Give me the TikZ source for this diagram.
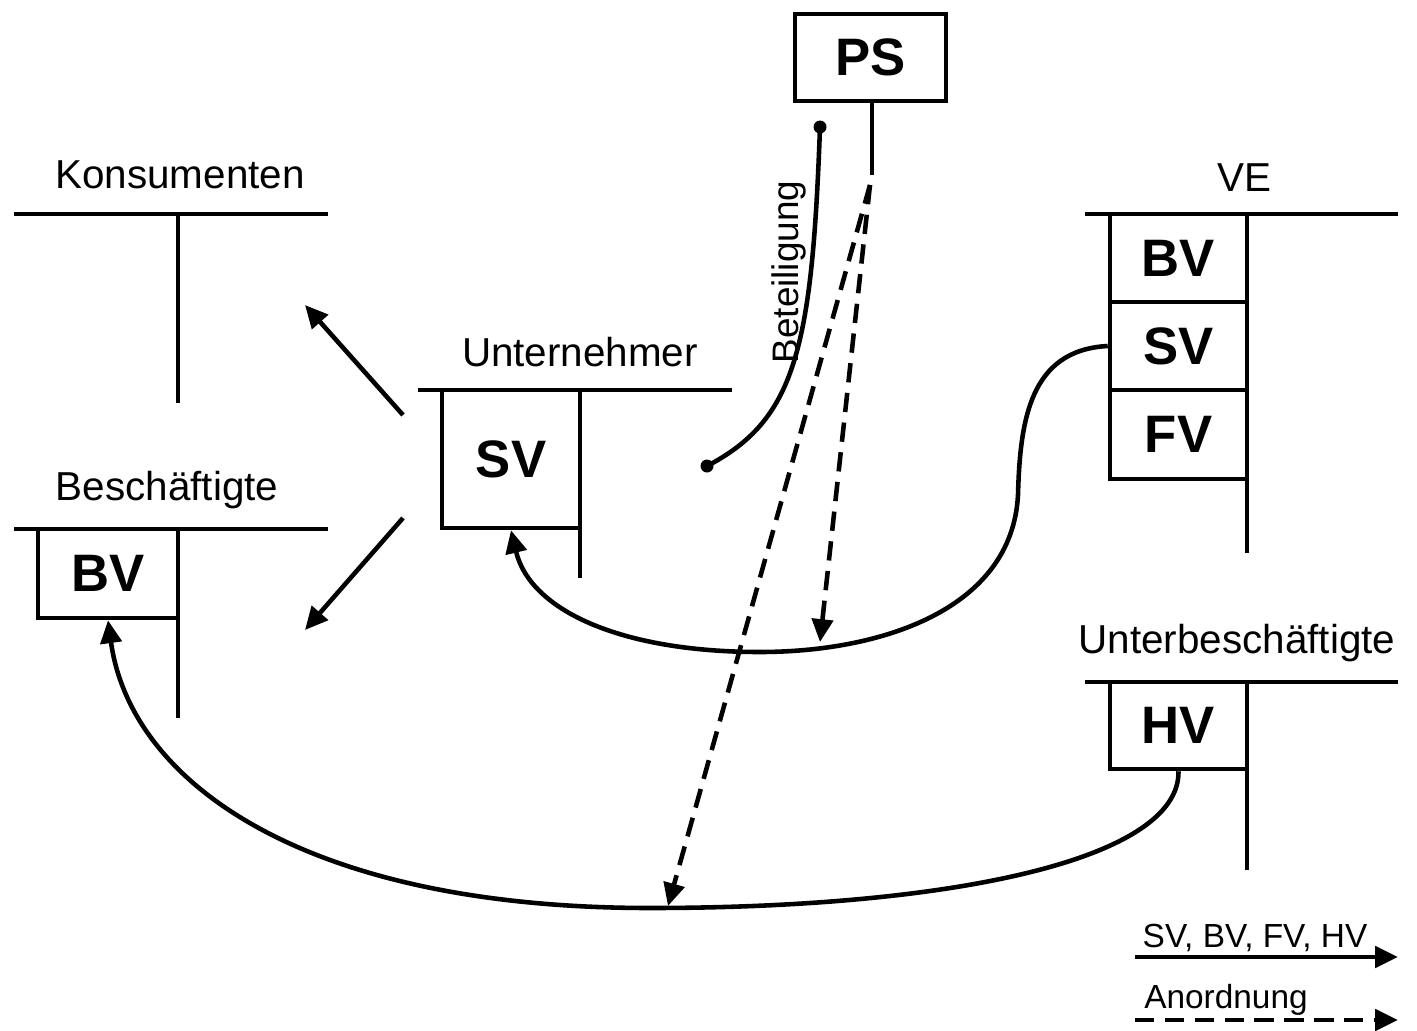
\documentclass[tikz,border=0pt]{standalone}
\usepackage{fontspec}
\setmainfont{Liberation Sans}
\usetikzlibrary{arrows.meta}
\begin{document}
\begin{tikzpicture}[x=0.02cm,y=-0.02cm,line width=2.6pt,
  fl/.style={-{Triangle[length=13pt,width=12pt]}},
  anord/.style={fl,dash pattern=on 11pt off 6pt},
  box/.style={draw,inner sep=0pt,font=\fontsize{30}{33}\selectfont\bfseries},
  lbl/.style={font=\fontsize{23}{27}\selectfont},
  leg/.style={font=\fontsize{19}{23}\selectfont}]
\useasboundingbox (0,0) rectangle (1417,1031);
%\draw[step=100,gray,very thin] (0,0) grid (1417,1031);
% Konsumenten
\node[lbl] (kons) at (180,175) {Konsumenten};
\draw (14,214) -- (328,214) (178,214) -- (178,403);
% Beschaeftigte
\node[lbl] (besch) at (167,490) {Beschäftigte};
\draw (14,529) -- (328,529) (178,529) -- (178,718);
\node[box,minimum width=2.8cm,minimum height=1.78cm] (bvb) at (108,573.5) {BV};
% Unternehmer
\node[lbl] (untn) at (580,352) {Unternehmer};
\draw (418,390) -- (732,390) (580,390) -- (580,578);
\node[box,minimum width=2.76cm,minimum height=2.76cm] (svu) at (511,459) {SV};
% PS
\node[box,minimum width=3.02cm,minimum height=1.74cm] (ps) at (870.5,57.5) {PS};
\coordinate (ps0) at (872,175);
\draw (ps0 |- ps.south) -- (ps0);
% VE
\node[lbl] (ve) at (1244,178) {VE};
\draw (1085,214) -- (1398,214) (1247,214) -- (1247,553);
\node[box,minimum width=2.74cm,minimum height=1.76cm] (vbv) at (1178.5,258) {BV};
\node[box,minimum width=2.74cm,minimum height=1.76cm] (vsv) at (1178.5,346) {SV};
\node[box,minimum width=2.74cm,minimum height=1.78cm] (vfv) at (1178.5,434.5) {FV};
% Unterbeschaeftigte
\node[lbl] (unterb) at (1237,643) {Unterbeschäftigte};
\draw (1085,682) -- (1398,682) (1247,682) -- (1247,870);
\node[box,minimum width=2.74cm,minimum height=1.74cm] (hv) at (1178.5,725.5) {HV};
% Beteiligung
\coordinate (bt1) at (820,127);
\coordinate (bt2) at (707,466);
\draw (bt1) .. controls (812,350) and (795,420) .. (bt2);
\fill (bt1) circle (6.5) (bt2) circle (6.5);
\node[font=\fontsize{21}{25}\selectfont,rotate=90] (bet) at (789,272) {Beteiligung};
% Unternehmer -> Konsumenten, Beschaeftigte
\coordinate (u1) at (403,415);
\coordinate (k1) at (305,305);
\coordinate (u2) at (403,518);
\coordinate (b1) at (305,630);
\draw[fl] (u1) -- (k1);
\draw[fl] (u2) -- (b1);
% Stroeme
\draw[fl] (vsv.west) .. controls (1030,350) and (1020,420) .. (1018,495)
  .. controls (1012,610) and (880,652) .. (760,652)
  .. controls (620,652) and (530,610) .. (svu.south);
\draw[fl] (hv.south) .. controls (1180,860) and (950,908) .. (650,908)
  .. controls (300,908) and (130,780) .. (bvb.south);
% Anordnungen
\coordinate (ps1) at (870,185);
\coordinate (a1) at (820,642);
\coordinate (a2) at (668,906);
\draw[anord] (ps1) -- (a1);
\draw[anord] (ps1) -- (a2);
% Legende
\node[leg] (lg1) at (1255,938) {SV, BV, FV, HV};
\node[leg] (lg2) at (1226,1000) {Anordnung};
\coordinate (l1) at (1135,957);
\coordinate (l2) at (1398,957);
\coordinate (l3) at (1135,1020);
\coordinate (l4) at (1398,1020);
\draw[fl] (l1) -- (l2);
\draw[anord] (l3) -- (l4);
\end{tikzpicture}
\end{document}
